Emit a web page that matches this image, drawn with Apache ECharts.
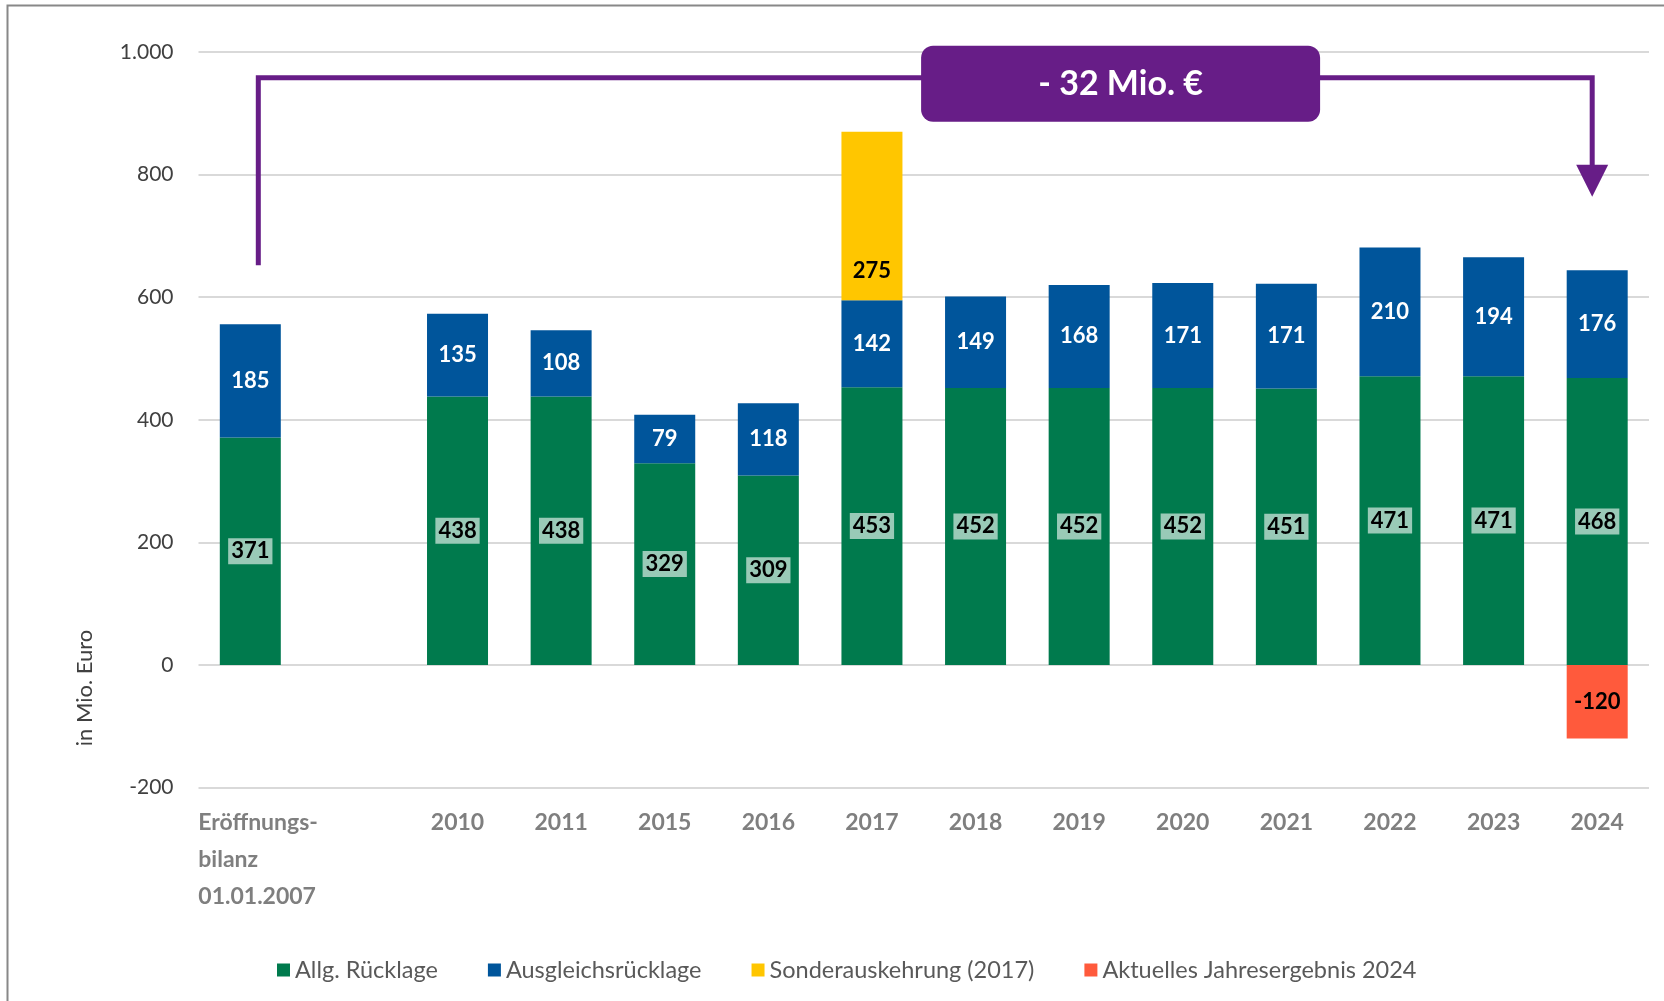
<!DOCTYPE html>
<html>
<head>
<meta charset="utf-8">
<script src="https://cdn.jsdelivr.net/npm/echarts@6/dist/echarts.min.js"></script>
<style>
  html, body { margin: 0; padding: 0; background: #fff; }
  #main { width: 1664px; height: 1001px; }
</style>
</head>
<body>
<div id="main"></div>
<script>
const categories = ['Eröffnungs-\nbilanz\n01.01.2007', '', '2010', '2011', '2015', '2016', '2017', '2018', '2019', '2020', '2021', '2022', '2023', '2024'];
const allgRuecklage = [371, '-', 438, 438, 329, 309, 453, 452, 452, 452, 451, 471, 471, 468];
const ausgleichsRuecklage = [185, '-', 135, 108, 79, 118, 142, 149, 168, 171, 171, 210, 194, 176];
const sonderauskehrung = ['-', '-', '-', '-', '-', '-', 275, '-', '-', '-', '-', '-', '-', '-'];
const jahresergebnis = ['-', '-', '-', '-', '-', '-', '-', '-', '-', '-', '-', '-', '-', -120];
const yTicks = [-200, 0, 200, 400, 600, 800, 1000];

// Klammer-Annotation (Werte in Mio. Euro)
const bracketStart = 652;
const bracketTop = 958;
const arrowTip = 764;
const bracketText = '- 32 Mio. €';

const FONT = 'Lato, "Noto Sans", sans-serif';
const PURPLE = '#671d87';

let chart = echarts.init(document.getElementById('main'));

const labelBase = {
    show: true,
    fontFamily: FONT,
    fontWeight: 'bold',
    fontSize: 22
};

let option = {
    animation: false,
    grid: {
        left: 198.5,
        right: 15,
        top: 52,
        bottom: 213.5,
        outerBoundsMode: 'none'
    },
    legend: {
        left: 272,
        top: 953,
        itemWidth: 13,
        itemHeight: 13,
        itemGap: 50,
        icon: 'rect',
        textStyle: { fontFamily: FONT, fontSize: 23.5, color: '#595959' },
        data: ['Allg. Rücklage', 'Ausgleichsrücklage', 'Sonderauskehrung (2017)', 'Aktuelles Jahresergebnis 2024']
    },
    xAxis: {
        type: 'category',
        data: categories,
        axisLine: { show: false, onZero: false },
        axisTick: { show: false },
        axisLabel: {
            interval: 0,
            margin: 17,
            width: 104,
            fontFamily: FONT,
            fontWeight: 'bold',
            fontSize: 23,
            lineHeight: 37,
            color: '#7f7f7f',
            formatter: function (v) {
                if (v.indexOf('\n') >= 0) {
                    return v.split('\n').map(function (s) { return '{first|' + s + '}'; }).join('\n');
                }
                return v;
            },
            rich: {
                first: {
                    align: 'left',
                    fontFamily: FONT,
                    fontWeight: 'bold',
                    fontSize: 23,
                    lineHeight: 37,
                    color: '#7f7f7f'
                }
            }
        }
    },
    yAxis: {
        type: 'value',
        min: yTicks[0],
        max: yTicks[yTicks.length - 1],
        interval: 200,
        axisLine: { show: false },
        axisTick: { show: false },
        splitLine: { lineStyle: { color: '#d9d9d9', width: 2 } },
        axisLabel: {
            margin: 25,
            fontFamily: FONT,
            fontSize: 21,
            color: '#404040',
            formatter: function (v) {
                return v >= 1000 ? (v / 1000) + '.' + String(v % 1000).padStart(3, '0') : String(v);
            }
        }
    },
    series: [
        {
            name: 'Allg. Rücklage',
            type: 'bar',
            stack: 'total',
            barWidth: 61,
            itemStyle: { color: '#007a4d' },
            label: Object.assign({}, labelBase, {
                position: 'inside',
                color: '#000',
                backgroundColor: 'rgba(255,255,255,0.6)',
                padding: [3, 3, 1, 3]
            }),
            data: allgRuecklage
        },
        {
            name: 'Ausgleichsrücklage',
            type: 'bar',
            stack: 'total',
            barWidth: 61,
            itemStyle: { color: '#00559b' },
            label: Object.assign({}, labelBase, { position: 'inside', color: '#fff' }),
            data: ausgleichsRuecklage
        },
        {
            name: 'Sonderauskehrung (2017)',
            type: 'bar',
            stack: 'total',
            barWidth: 61,
            itemStyle: { color: '#ffc600' },
            label: Object.assign({}, labelBase, { position: 'insideBottom', distance: 18, color: '#000' }),
            data: sonderauskehrung
        },
        {
            name: 'Aktuelles Jahresergebnis 2024',
            type: 'bar',
            stack: 'total',
            barWidth: 61,
            itemStyle: { color: '#ff5a3c' },
            label: Object.assign({}, labelBase, { position: 'inside', color: '#000' }),
            data: jahresergebnis
        }
    ]
};
chart.setOption(option);

// Annotation: Rahmen, y-Achsentitel, Klammer mit Pfeil und Box
const xLeft = chart.convertToPixel({ xAxisIndex: 0 }, 0) + 8;
const xRight = chart.convertToPixel({ xAxisIndex: 0 }, 13) - 5;
const yStart = chart.convertToPixel({ yAxisIndex: 0 }, bracketStart);
const yTop = chart.convertToPixel({ yAxisIndex: 0 }, bracketTop);
const yTip = chart.convertToPixel({ yAxisIndex: 0 }, arrowTip);
const x8 = chart.convertToPixel({ xAxisIndex: 0 }, 8);
const x9 = chart.convertToPixel({ xAxisIndex: 0 }, 9);
const boxCx = x8 + 0.4 * (x9 - x8);
const boxW = 399, boxH = 76;

chart.setOption({
    graphic: [
        {
            type: 'rect',
            shape: { x: 7.5, y: 5.5, width: 1700, height: 1100 },
            style: { fill: 'none', stroke: '#888', lineWidth: 2 },
            silent: true
        },
        {
            type: 'text',
            x: 85,
            y: 688,
            rotation: Math.PI / 2,
            style: {
                text: 'in Mio. Euro',
                fontFamily: FONT,
                fontSize: 22,
                fill: '#404040',
                align: 'center',
                verticalAlign: 'middle'
            }
        },
        {
            type: 'polyline',
            shape: { points: [[xLeft, yStart], [xLeft, yTop], [xRight, yTop], [xRight, yTip - 30]] },
            style: { stroke: PURPLE, lineWidth: 5, fill: 'none', lineJoin: 'miter' }
        },
        {
            type: 'polygon',
            shape: { points: [[xRight - 16, yTip - 32], [xRight + 16, yTip - 32], [xRight, yTip]] },
            style: { fill: PURPLE }
        },
        {
            type: 'rect',
            shape: { x: boxCx - boxW / 2, y: yTop + 6 - boxH / 2, width: boxW, height: boxH, r: 12 },
            style: { fill: PURPLE }
        },
        {
            type: 'text',
            x: boxCx,
            y: yTop + 6,
            style: {
                text: bracketText,
                fontFamily: FONT,
                fontWeight: 'bold',
                fontSize: 34,
                fill: '#fff',
                align: 'center',
                verticalAlign: 'middle'
            }
        }
    ]
});
</script>
</body>
</html>
